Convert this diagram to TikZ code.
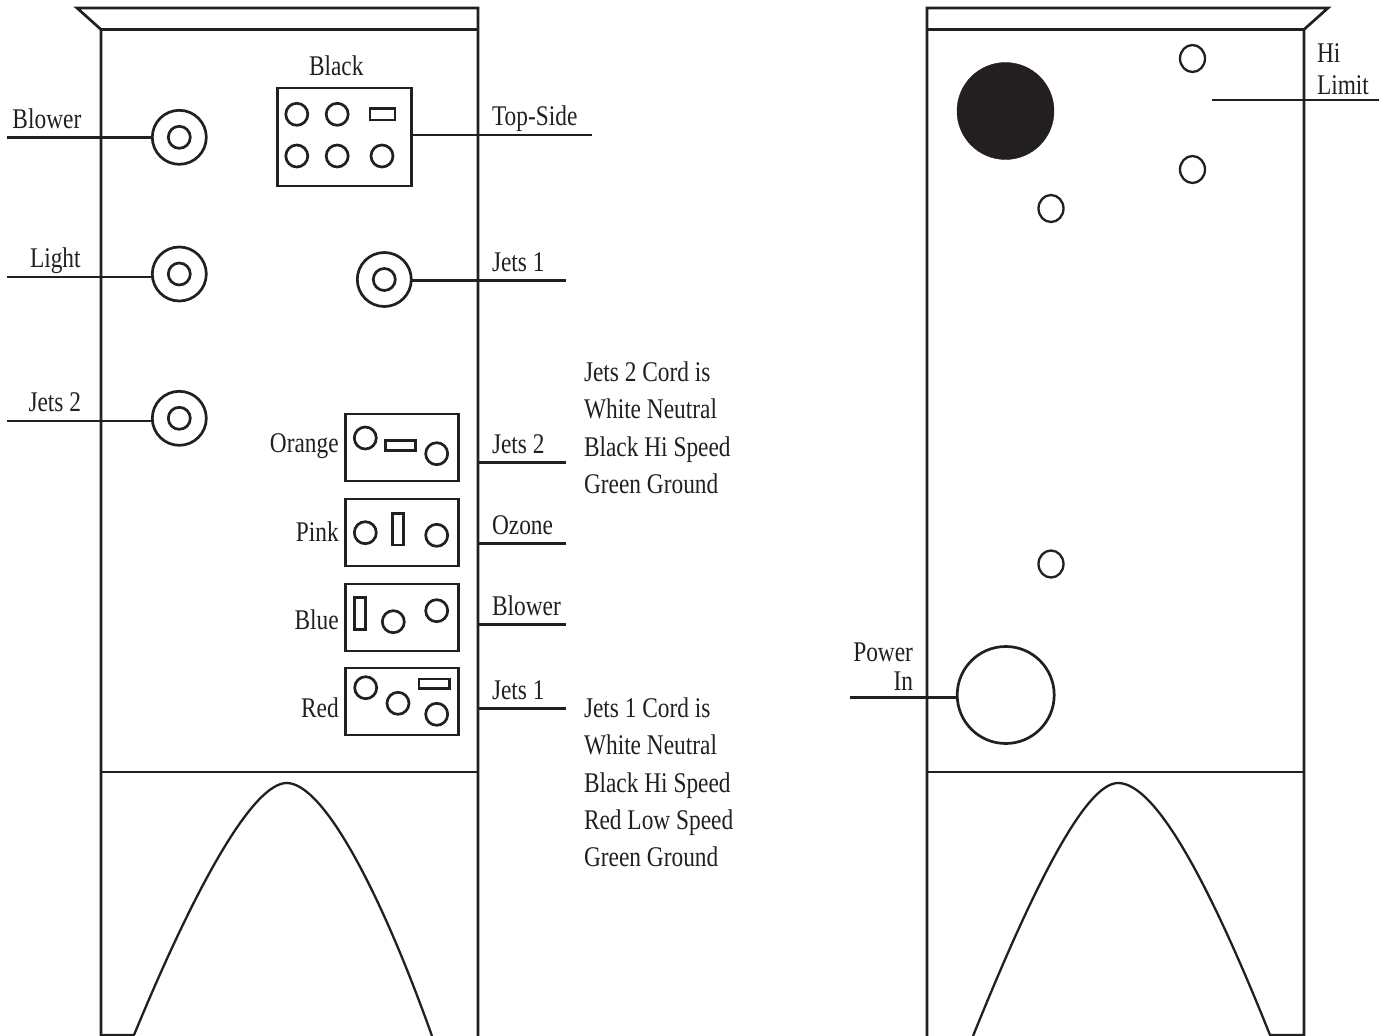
\documentclass[tikz,border=0pt]{standalone}
\usepackage{fontspec}
\usetikzlibrary{shapes.geometric}
\setmainfont[FakeStretch=0.82]{Liberation Serif}
\definecolor{ink}{HTML}{231F20}
\tikzset{
  ln/.style={draw=ink,line width=2.7pt},
  thin ln/.style={draw=ink,line width=2.3pt},
  lab/.style={inner sep=0pt,outer sep=0pt,anchor=base west,text=ink,font=\fontsize{28.5}{37}\selectfont},
  labr/.style={lab,anchor=base east},
  pin/.style={circle,ln,inner sep=0pt,outer sep=0pt,minimum size=22pt},
  hole/.style={ellipse,thin ln,inner sep=0pt,outer sep=0pt,minimum width=25pt,minimum height=27pt},
  jack/.style={circle,ln,inner sep=0pt,outer sep=0pt,minimum size=54pt},
  plug/.style={rectangle,ln,inner sep=0pt,outer sep=0pt,anchor=north west},
}
\begin{document}
\begin{tikzpicture}[x=1pt,y=-1pt]
\useasboundingbox (0,0) rectangle (1387,1036);
% ---------- left cabinet
\draw[ln,line join=miter] (101,1036) -- (101,29.5) -- (77,8) -- (478,8) -- (478,1036);
\draw[ln] (101,29.5) -- (478,29.5);
\draw[ln] (101,772) -- (478,772);
\draw[thin ln,line join=round] (101,1035) -- (134,1035) .. controls (198,880) and (254,783) .. (286.7,783)
   .. controls (323,783) and (380,890) .. (432,1036);
% jacks
\node[jack] (jBlower) at (179.3,137.3) {};
\node[pin] at (179.3,137.3) {};
\node[jack] (jLight) at (179.3,274) {};
\node[pin] at (179.3,274) {};
\node[jack] (jJetsTwo) at (179.3,418.3) {};
\node[pin] at (179.3,418.3) {};
\node[jack] (jJetsOne) at (384.3,279.5) {};
\node[pin] at (384.3,279.5) {};
% black plug
\node[plug,minimum width=134pt,minimum height=98pt] (pBlack) at (277.3,88) {};
\foreach \x/\y in {296.8/114.3,337.2/114.3,296.8/156,337.2/156,382/156}
  \node[pin] at (\x,\y) {};
\draw[ln] (370,108.7) rectangle (395,120);
% coloured plugs
\node[plug,minimum width=112.5pt,minimum height=67pt] (pOrange) at (345.7,414) {};
\node[plug,minimum width=112.5pt,minimum height=67pt] (pPink) at (345.7,499) {};
\node[plug,minimum width=112.5pt,minimum height=67pt] (pBlue) at (345.7,584) {};
\node[plug,minimum width=112.5pt,minimum height=67pt] (pRed) at (345.7,668) {};
\foreach \x/\y in {365.3/438,436.7/453.7,365.3/532.7,436.7/535.3,393.3/621.7,436.7/610.7,365.7/687.7,398/703.3,436.7/714.3}
  \node[pin] at (\x,\y) {};
\draw[ln] (385.3,440.7) rectangle (415.3,450.7);
\draw[ln] (392.3,513.3) rectangle (403.3,545);
\draw[ln] (354.7,597.7) rectangle (365.7,629.3);
\draw[ln] (419,679) rectangle (449.3,688.7);
% free line ends and the cabinet wall points
\coordinate (eBlower) at (7,137.3);
\coordinate (eLight) at (7,277);
\coordinate (eJetsTwo) at (7,421);
\coordinate (eJetsOne) at (566,280.3);
\coordinate (eTop) at (592,135);
\coordinate (wJetsTwo) at (478,462.3);
\coordinate (fJetsTwo) at (566,462.3);
\coordinate (wOzone) at (478,543.3);
\coordinate (fOzone) at (566,543.3);
\coordinate (wBlower) at (478,624.3);
\coordinate (fBlower) at (566,624.3);
\coordinate (wJetsOne) at (478,708.7);
\coordinate (fJetsOne) at (566,708.7);
\draw[ln] (eBlower) -- (eBlower -| jBlower.west);
\draw[ln] (eLight) -- (eLight -| jLight.west);
\draw[ln] (eJetsTwo) -- (eJetsTwo -| jJetsTwo.west);
\draw[ln] (eJetsOne -| jJetsOne.east) -- (eJetsOne);
\draw[ln] (eTop -| pBlack.east) -- (eTop);
\draw[ln] (wJetsTwo) -- (fJetsTwo);
\draw[ln] (wOzone) -- (fOzone);
\draw[ln] (wBlower) -- (fBlower);
\draw[ln] (wJetsOne) -- (fJetsOne);
% labels left
\node[lab] (tBlowerL) at (12.5,128) {Blower};
\node[lab] (tLight) at (30,267.5) {Light};
\node[lab] (tJetsTwoL) at (28.5,411.5) {Jets 2};
\node[lab] (tBlack) at (309,75.5) {Black};
\node[lab] (tTop) at (492,125.5) {Top-Side};
\node[lab] (tJetsOneU) at (492,271.5) {Jets 1};
\node[labr] (tOrange) at (338.7,452.7) {Orange};
\node[labr] (tPink) at (338.7,541.5) {Pink};
\node[labr] (tBlue) at (338.7,629) {Blue};
\node[labr] (tRed) at (338.7,717.5) {Red};
\node[lab] (tJetsTwoR) at (492,453.5) {Jets 2};
\node[lab] (tOzone) at (492,534.5) {Ozone};
\node[lab] (tBlowerR) at (492,615.5) {Blower};
\node[lab] (tJetsOneR) at (492,699.5) {Jets 1};
\node[lab] (c1) at (584,381.5) {Jets 2 Cord is};
\node[lab] (c2) at (584,418.5) {White Neutral};
\node[lab] (c3) at (584,456.5) {Black Hi Speed};
\node[lab] (c4) at (584,493.5) {Green Ground};
\node[lab] (d1) at (584,717.5) {Jets 1 Cord is};
\node[lab] (d2) at (584,754.5) {White Neutral};
\node[lab] (d3) at (584,792) {Black Hi Speed};
\node[lab] (d4) at (584,829) {Red Low Speed};
\node[lab] (d5) at (584,866) {Green Ground};
% ---------- right cabinet
\draw[ln,line join=miter] (927,1036) -- (927,8) -- (1328,8) -- (1304,29.5) -- (1304,1036);
\draw[ln] (927,29.5) -- (1304,29.5);
\draw[ln] (927,772) -- (1304,772);
\draw[thin ln,line join=round] (973,1036) .. controls (1032,890) and (1085,783) .. (1118,783)
   .. controls (1155,783) and (1208,880) .. (1270,1035) -- (1304,1035);
\node[circle,fill=ink,draw=ink,inner sep=0pt,minimum size=97pt] (nBlack) at (1005.5,111) {};
\node[hole] (h1) at (1192.5,58.5) {};
\node[hole] (h2) at (1192.5,169.5) {};
\node[hole] (h3) at (1051,208.5) {};
\node[hole] (h4) at (1051,564) {};
\node[circle,ln,inner sep=0pt,outer sep=0pt,minimum size=97pt] (nPower) at (1005.7,695) {};
\coordinate (hiA) at (1212,100);
\coordinate (hiB) at (1379,100);
\coordinate (pwA) at (850,697.3);
\draw[ln] (hiA) -- (hiB);
\draw[ln] (pwA) -- (pwA -| nPower.west);
\node[lab] (tHi) at (1317,62) {Hi};
\node[lab] (tLimit) at (1317,94.5) {Limit};
\node[labr] (tPower) at (913,661.5) {Power};
\node[labr] (tIn) at (913,690.5) {In};
\end{tikzpicture}
\end{document}
